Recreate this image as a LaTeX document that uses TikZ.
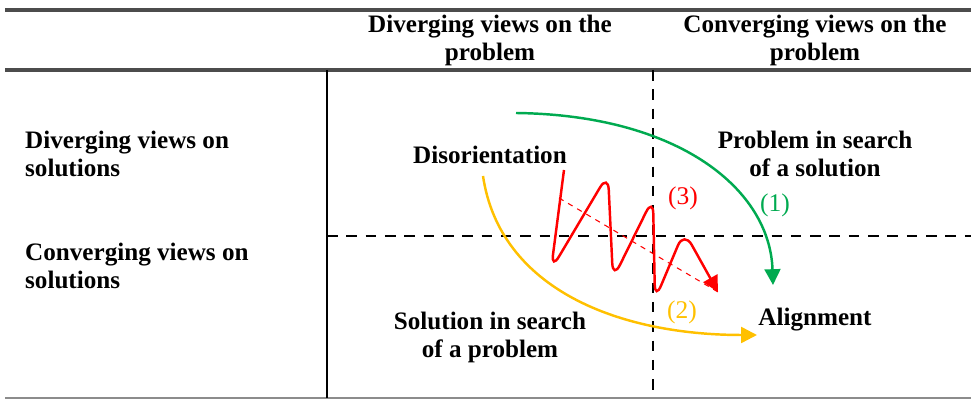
\documentclass[tikz,border=0pt]{standalone}
\usepackage{fontspec}
\setmainfont{Liberation Serif}
\usetikzlibrary{arrows.meta}
\definecolor{pathgreen}{RGB}{0,170,80}
\definecolor{pathorange}{RGB}{255,192,0}
\definecolor{pathred}{RGB}{255,0,0}
\begin{document}
\begin{tikzpicture}[x=0.02cm, y=-0.02cm,
    head/.style={font=\bfseries\fontsize{14.3}{15.9}\selectfont, align=center},
    rowlab/.style={font=\bfseries\fontsize{14.3}{15.9}\selectfont, align=left, anchor=west},
    num/.style={font=\fontsize{14.5}{16}\selectfont},
    rule/.style={line width=2pt, black!70},
    grid/.style={line width=1.5pt, dash pattern=on 6pt off 5pt},
    flow/.style={line width=1.4pt, -{Triangle[length=9pt,width=9pt]}}]
    \useasboundingbox (0,0) rectangle (971,401);

    % Table rules
    \draw[rule] (5,10) -- (971,10);
    \draw[rule] (5,70) -- (971,70);
    \draw[black!45, line width=0.9pt] (5,398) -- (971,398);
    \draw[line width=1pt] (327,70) -- (327,398);

    % Quadrant axes
    \draw[grid] (653,70) -- (653,398);
    \draw[grid] (327,236) -- (971,236);

    % Headers
    \node[head] (colDiv) at (490,40) {Diverging views on the\\problem};
    \node[head] (colConv) at (815,40) {Converging views on the\\problem};
    \node[rowlab] (rowDiv) at (19,154) {Diverging views on\\solutions};
    \node[rowlab] (rowConv) at (19,266) {Converging views on\\solutions};

    % Quadrants
    \node[head] (dis) at (490,155) {Disorientation};
    \node[head] (pis) at (815,154) {Problem in search\\of a solution};
    \node[head] (sis) at (490,337) {Solution in search\\of a problem};
    \node[head] (ali) at (815,320) {Alignment};

    % Paths
    \coordinate (g0) at (516,113);
    \coordinate (g1) at (773,285);
    \coordinate (o0) at (483,176);
    \coordinate (o1) at (757,335);
    \coordinate (r0) at (564,170);
    \coordinate (r1) at (718,292);
    \coordinate (d0) at (559,198);

    \draw[flow, pathgreen] (g0) .. controls (680,115) and (770,190) .. (g1);
    \draw[flow, pathorange] (o0) .. controls (500,290) and (620,335) .. (o1);
    \draw[flow, pathred, rounded corners=9pt] (r0) -- (551,270) -- (608,174) -- (613,279)
        -- (653,198) -- (655,300) -- (684,231) -- (r1);
    \draw[pathred, dashed, line width=0.6pt] (d0) -- (r1);

    \node[num, pathgreen] (n1) at (775,205) {(1)};
    \node[num, pathorange] (n2) at (682,312) {(2)};
    \node[num, pathred] (n3) at (683,198) {(3)};
\end{tikzpicture}
\end{document}
